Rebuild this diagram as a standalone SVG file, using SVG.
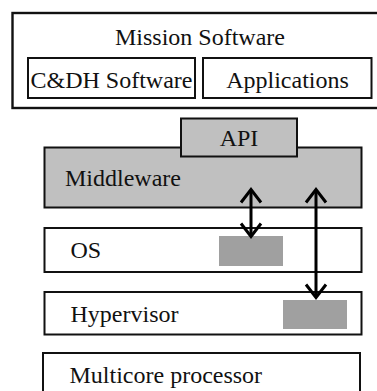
<svg xmlns="http://www.w3.org/2000/svg" width="377" height="391" viewBox="0 0 377 391">
  <style>
    .box { fill: #ffffff; stroke: #111111; stroke-width: 2; }
    .gbox { fill: #c0c0c0; stroke: #111111; stroke-width: 2; }
    .blk { fill: #a0a0a0; stroke: none; }
    .lbl { font-family: 'Liberation Serif', 'Times New Roman', Tinos, 'DejaVu Serif', serif; font-size: 24px; fill: #111111; }
    .mid { text-anchor: middle; }
    .arr { stroke: #000000; stroke-width: 3; fill: none; marker-start: url(#chev); marker-end: url(#chev); }
  </style>
  <defs>
    <marker id="chev" markerUnits="userSpaceOnUse" viewBox="-16 -14 20 28" markerWidth="20" markerHeight="28" refX="-1.5" refY="0" orient="auto-start-reverse">
      <path d="M -13 -10 L 0 0 L -13 10" fill="none" stroke="#000000" stroke-width="3" stroke-linejoin="miter"/>
    </marker>
  </defs>
  <rect width="377" height="391" fill="#ffffff"/>

  <g id="mission">
    <rect class="box" x="12.5" y="13" width="380" height="95" style="stroke-width:2.4"/>
    <text class="lbl mid" x="200" y="45" font-family="Liberation Serif, serif">Mission Software</text>
  </g>
  <g id="cdh">
    <rect class="box" x="28" y="58" width="167" height="40"/>
    <text class="lbl mid" x="111.5" y="88" font-family="Liberation Serif, serif">C&amp;DH Software</text>
  </g>
  <g id="applications">
    <rect class="box" x="203" y="58" width="168.5" height="40"/>
    <text class="lbl mid" x="287.5" y="88" font-family="Liberation Serif, serif">Applications</text>
  </g>
  <g id="middleware">
    <rect class="gbox" x="44.5" y="147.5" width="317" height="60"/>
    <text class="lbl" x="65" y="186" font-family="Liberation Serif, serif">Middleware</text>
  </g>
  <g id="api">
    <rect class="gbox" x="181" y="118.5" width="116" height="38"/>
    <text class="lbl mid" x="239" y="146" font-family="Liberation Serif, serif">API</text>
  </g>
  <g id="os">
    <rect class="box" x="44.5" y="228" width="317" height="44"/>
    <text class="lbl" x="70.5" y="258" font-family="Liberation Serif, serif">OS</text>
    <rect class="blk" x="219" y="236" width="64" height="30"/>
  </g>
  <g id="hypervisor">
    <rect class="box" x="44.5" y="292" width="317" height="42.5"/>
    <text class="lbl" x="70.5" y="322" font-family="Liberation Serif, serif">Hypervisor</text>
    <rect class="blk" x="283" y="300" width="64" height="29"/>
  </g>
  <g id="multicore">
    <rect class="box" x="43" y="353" width="317" height="60"/>
    <text class="lbl" x="69.5" y="383" font-family="Liberation Serif, serif">Multicore processor</text>
  </g>

  <g id="connectors">
    <line class="arr" x1="251" y1="191" x2="251" y2="235"/>
    <line class="arr" x1="316" y1="191" x2="316" y2="296"/>
  </g>
</svg>
